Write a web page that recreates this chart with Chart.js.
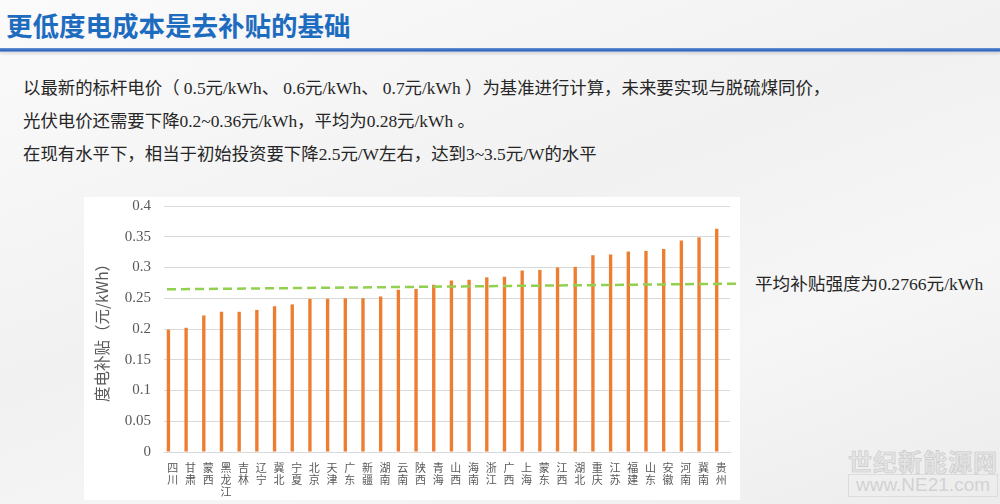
<!DOCTYPE html>
<html>
<head>
<meta charset="utf-8">
<script src="https://cdn.jsdelivr.net/npm/chart.js@4.4.1/dist/chart.umd.min.js"></script>
<style>
    html, body { margin: 0; padding: 0; }
    body {
        width: 1000px; height: 504px; overflow: hidden; position: relative;
        background: linear-gradient(160deg, #fbfbfb 0%, #f1f1f1 45%, #f6f6f6 70%, #ececec 100%);
        font-family: "Liberation Serif", "Noto Sans CJK SC", serif;
    }
    .titre {
        position: absolute; left: 6px; top: 5px;
        font-family: "Noto Sans CJK SC", sans-serif; font-weight: bold;
        font-size: 26.5px; color: #1e6cc0;
    }
    .barre {
        position: absolute; left: 0; top: 48px; width: 1000px; height: 4px;
        background: linear-gradient(180deg, #6b95d6 0%, #2f62b8 60%, #9fb7df 100%);
        box-shadow: 0 2px 3px rgba(0,0,0,0.12);
    }
    .texte {
        position: absolute; left: 23px; top: 72px;
        font-size: 17.4px; line-height: 33px; color: #262626;
    }
    .note {
        position: absolute; left: 755px; top: 270px;
        font-size: 17.6px; color: #262626;
    }
    .boite {
        position: absolute; left: 84px; top: 197px; width: 656px; height: 303px;
        background: #ffffff;
    }
    .boite canvas { position: absolute; left: 0; top: -13px; }
    .filigrane {
        position: absolute; left: 848px; top: 448px;
        font-family: "Noto Sans CJK SC", sans-serif; color: #e4e4e4;
        text-align: center; line-height: 1.1;
    }
    .filigrane .a { font-size: 24px; font-weight: bold; letter-spacing: 1px; -webkit-text-stroke: 0.6px #c9c9c9; }
    .filigrane .b { font-family: "Liberation Sans", sans-serif; font-size: 19px; color: #d2d2d2; border: 1px solid #dcdcdc; padding: 0 3px; }
</style>
</head>
<body>
<div class="titre">更低度电成本是去补贴的基础</div>
<div class="barre"></div>
<div class="texte">
    以最新的标杆电价（ 0.5元/kWh、 0.6元/kWh、 0.7元/kWh ）为基准进行计算，未来要实现与脱硫煤同价，<br>
    光伏电价还需要下降0.2~0.36元/kWh，平均为0.28元/kWh 。<br>
    在现有水平下，相当于初始投资要下降2.5元/W左右，达到3~3.5元/W的水平
</div>
<div class="note">平均补贴强度为0.2766元/kWh</div>
<div class="boite"><canvas id="subventionChart" width="656" height="316"></canvas></div>
<div class="filigrane"><div class="a">世纪新能源网</div><div class="b">www.NE21.com</div></div>

<script>
// Provinces (dans l'ordre du graphique)
const provinces = ['四川', '甘肃', '蒙西', '黑龙江', '吉林', '辽宁', '冀北', '宁夏', '北京', '天津',
    '广东', '新疆', '湖南', '云南', '陕西', '青海', '山西', '海南', '浙江', '广西',
    '上海', '蒙东', '江西', '湖北', '重庆', '江苏', '福建', '山东', '安徽', '河南', '冀南', '贵州'];

// Subvention par kWh (元/kWh)
const subventions = [0.199, 0.202, 0.222, 0.228, 0.228, 0.231, 0.237, 0.240, 0.249, 0.249,
    0.250, 0.250, 0.253, 0.264, 0.265, 0.272, 0.279, 0.280, 0.284, 0.285,
    0.295, 0.296, 0.300, 0.301, 0.320, 0.321, 0.326, 0.327, 0.330, 0.344, 0.349, 0.363];

// Ligne de moyenne (tracée légèrement inclinée dans l'original)
const moyenneX = [-0.33, 31.9];
const moyenneY = [0.2645, 0.2737];

const yTicks = [0, 0.05, 0.1, 0.15, 0.2, 0.25, 0.3, 0.35, 0.4];

const gris = '#595959';

const ctx = document.getElementById('subventionChart').getContext('2d');
new Chart(ctx, {
    data: {
        labels: provinces.map(p => p.split('')),
        datasets: [{
            type: 'bar',
            label: '度电补贴',
            data: subventions,
            backgroundColor: '#ed7d31',
            barPercentage: 0.38,
            categoryPercentage: 1,
            order: 1
        }, {
            type: 'line',
            label: '平均',
            xAxisID: 'x2',
            data: moyenneX.map((x, i) => ({ x: x, y: moyenneY[i] })),
            borderColor: '#92d050',
            borderWidth: 2.5,
            borderDash: [9, 5],
            pointRadius: 0,
            fill: false,
            clip: false,
            order: 0
        }]
    },
    options: {
        responsive: false,
        animation: false,
        layout: { padding: { top: 0, right: 10, left: 0, bottom: 0 } },
        plugins: { legend: { display: false }, tooltip: { enabled: false } },
        scales: {
            x: {
                type: 'category',
                offset: true,
                grid: { display: false },
                border: { display: true, color: '#d9d9d9' },
                ticks: {
                    color: gris, autoSkip: false, maxRotation: 0, minRotation: 0, padding: 2,
                    font: { family: '"Noto Sans CJK SC", sans-serif', size: 11, lineHeight: 1.1 }
                },
                afterFit: (scale) => { scale.height = 48; }
            },
            x2: {
                type: 'linear', display: false, min: -0.5, max: 31.5
            },
            y: {
                min: 0, max: 0.4,
                afterBuildTicks: (scale) => { scale.ticks = yTicks.map(v => ({ value: v })); },
                grid: { color: '#d9d9d9', drawTicks: false },
                border: { display: false },
                ticks: {
                    color: gris, padding: 13,
                    font: { family: '"Liberation Serif", serif', size: 15 },
                    callback: (v) => String(Number(v.toFixed(2)))
                },
                title: {
                    display: true, text: '度电补贴（元/kWh）', color: gris, padding: { top: 9, bottom: 0 },
                    font: { family: '"Noto Sans CJK SC", sans-serif', size: 15.5 }
                },
                afterFit: (scale) => { scale.width = 80; }
            }
        }
    }
});
</script>
</body>
</html>
